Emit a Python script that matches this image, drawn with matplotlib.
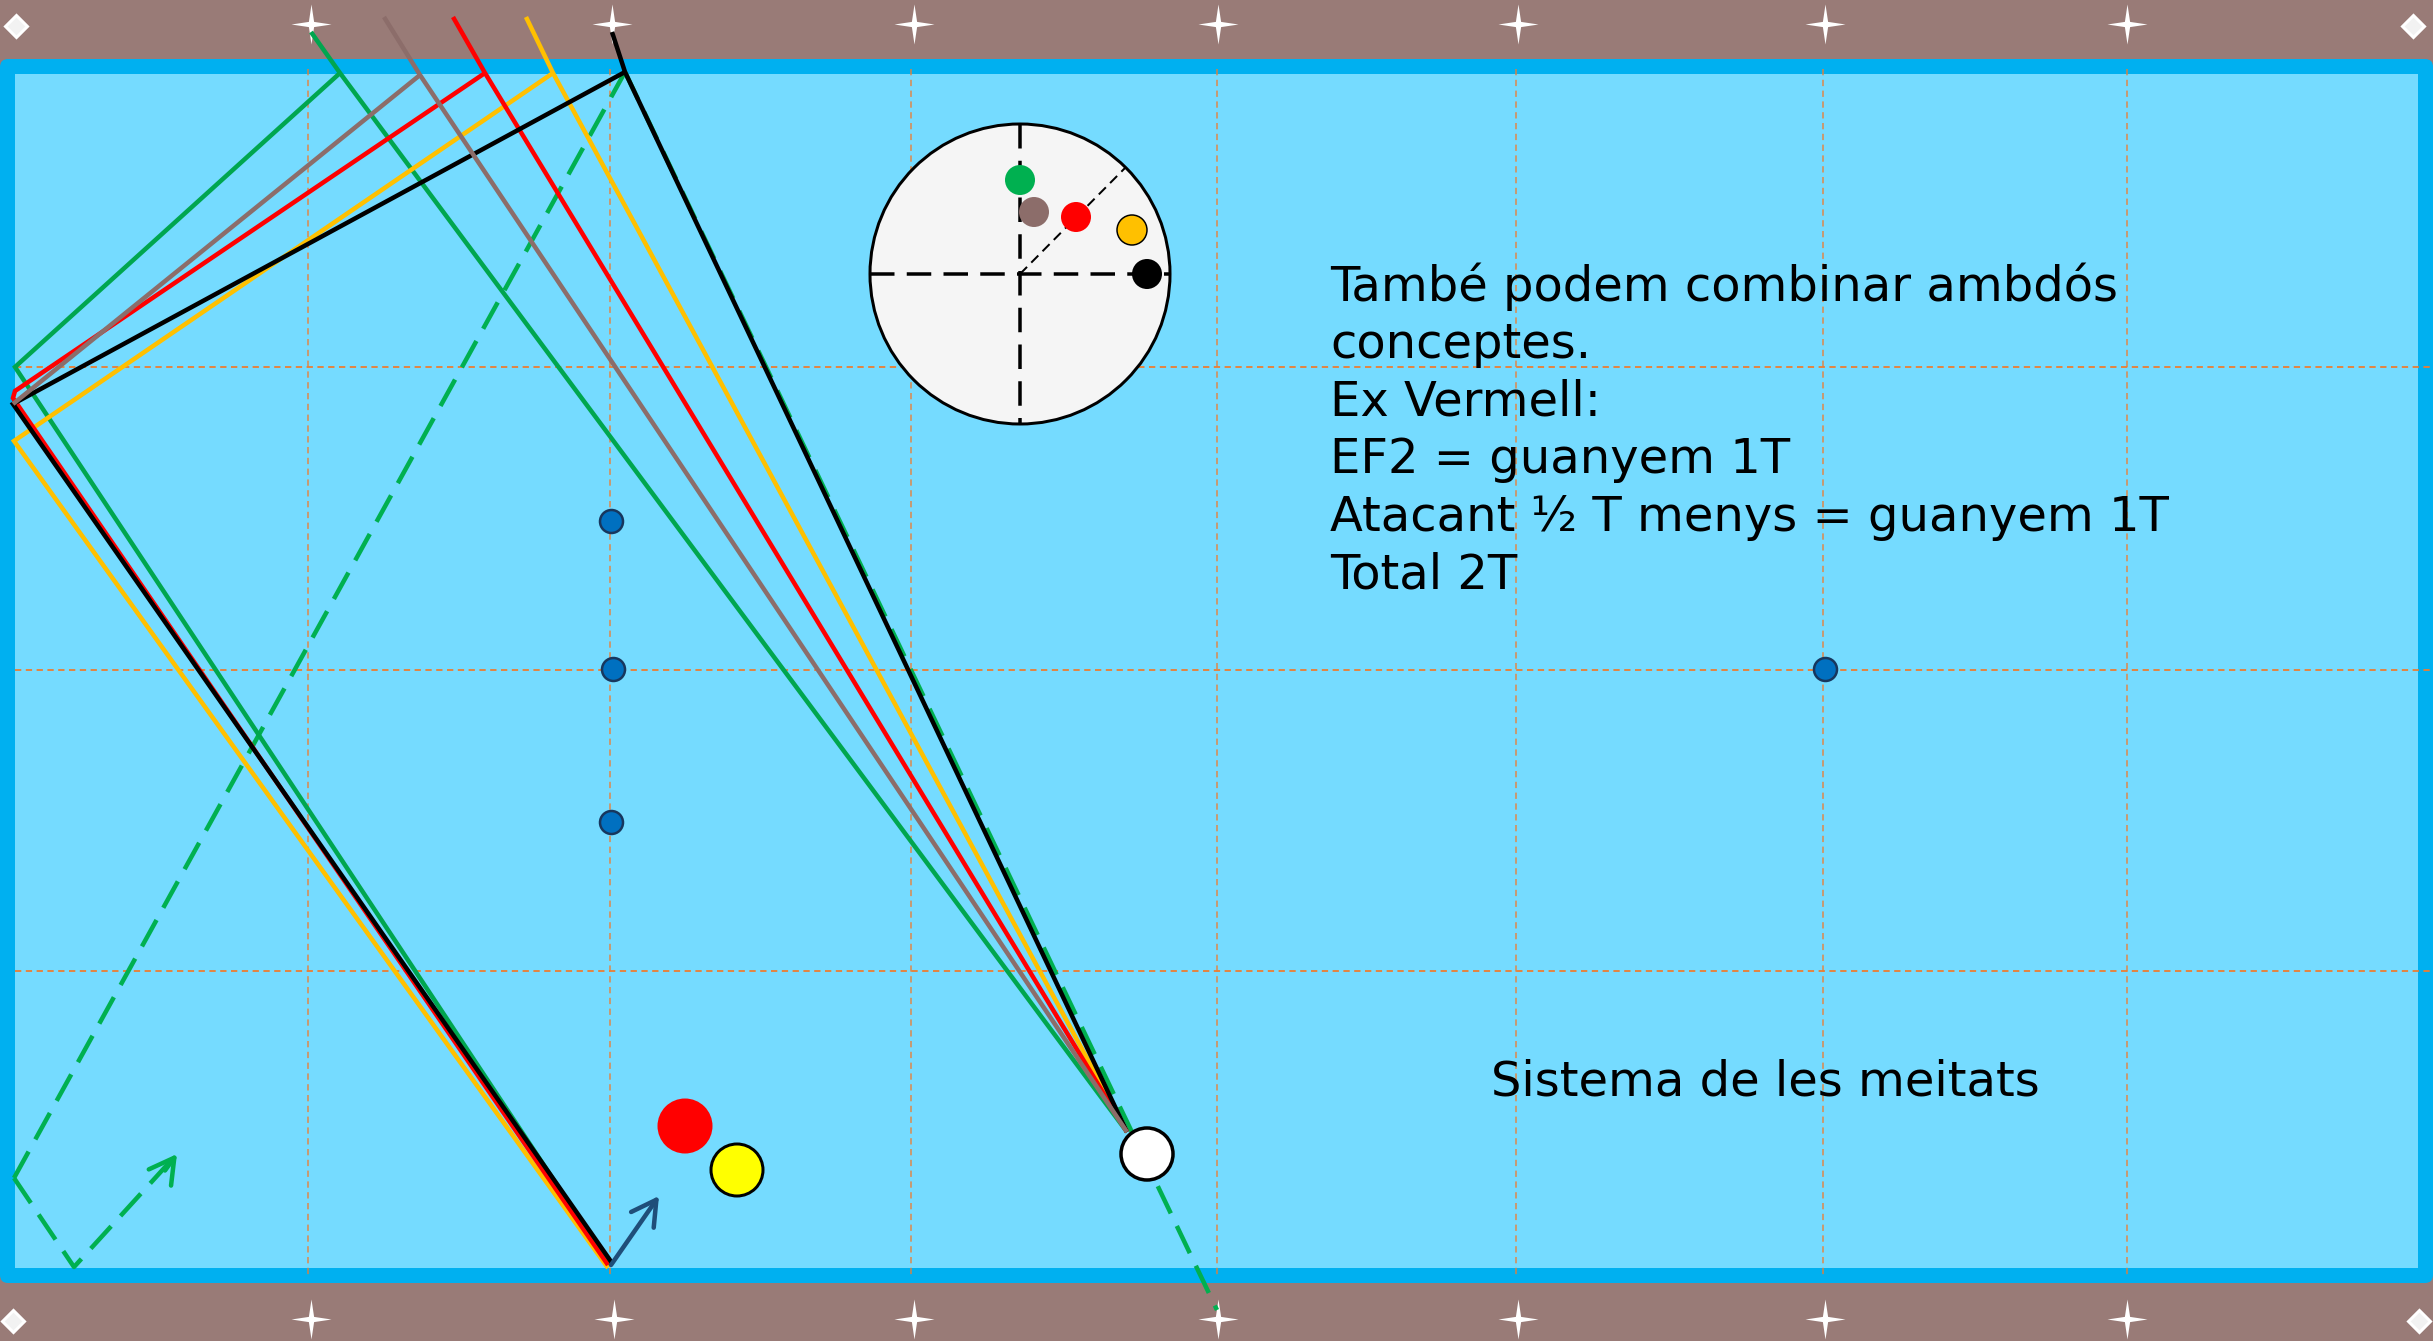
import matplotlib
matplotlib.use("Agg")
import matplotlib.pyplot as plt
from matplotlib.patches import Circle, FancyBboxPatch, Rectangle
from matplotlib.path import Path

W, H = 2433, 1341
PX = 0.72  # 1 px em pt a dpi 100

# --- cores ---
brown = "#997B77"
frame_blue = "#00B0F0"
cloth = "#75DBFF"
grid_orange = "#ED7D31"
c_green = "#00A64F"
c_dash = "#00B050"
c_gray = "#8C6D6A"
c_red = "#FF0000"
c_yellow = "#FFC000"
c_black = "#000000"

# --- dados ---
star_x_top = [311, 612, 914, 1218, 1518, 1825, 2127]
star_x_bottom = [311, 614, 914, 1218, 1518, 1825, 2127]
corner_x = [16, 2413, 13, 2419]
corner_y = [26, 26, 1321, 1321]
grid_x = [308, 610, 911, 1217, 1516, 1823, 2127]
grid_y = [367, 670, 971]
dots_x = [611, 613, 611, 1825]
dots_y = [521, 669, 822, 669]

# tacada: bola -> banda de cima (prolongada) e depois banda -> banda -> baixo
cue_start = (1127, 1132)
green_top = (311, 32)
gray_top = (384, 17)
red_top = (453, 17)
yellow_top = (526, 17)
black_top = (612, 32)

green_x = [340, 15, 610]
green_y = [73, 367, 1265]
gray_x = [420, 13]
gray_y = [75, 404]
yellow_x = [553, 14, 608]
yellow_y = [73, 441, 1268]
red_x = [485, 15, 13, 608]
red_y = [73, 391, 398, 1265]
black_x = [625, 13, 612]
black_y = [72, 404, 1263]

# tracejado: troços separados para o traço recomeçar em cada banda
dash_in_x = [1217, 625]
dash_in_y = [1310, 72]
dash_mid_x = [14, 625]
dash_mid_y = [1178, 72]
dash_out_x = [14, 74, 177]
dash_out_y = [1178, 1267, 1154]
blue_arrow = [(611, 1265), (659, 1196)]

spin_center = (1020, 274)
spin_x = [1020, 1034, 1076, 1132, 1147]
spin_y = [180, 212, 217, 230, 274]
spin_colors = [c_dash, c_gray, c_red, c_yellow, c_black]

text_lines = [
    "També podem combinar ambdós",
    "conceptes.",
    "Ex Vermell:",
    "EF2 = guanyem 1T",
    "Atacant ½ T menys = guanyem 1T",
    "Total 2T",
]
caption = "Sistema de les meitats"

fig = plt.figure(figsize=(W / 100, H / 100), dpi=100, facecolor=brown)
ax = fig.add_axes([0, 0, 1, 1])
ax.set_xlim(0, W)
ax.set_ylim(H, 0)
ax.axis("off")

# --- mesa ---
ax.add_patch(FancyBboxPatch((0, 59), W, 1224, boxstyle="round,pad=0,rounding_size=8",
                            fc=frame_blue, ec="none", zorder=1))
ax.add_patch(Rectangle((15, 74), 2403, 1194, fc=cloth, ec="none", zorder=1.1))

# --- grelha ---
for x in grid_x:
    ax.plot([x, x], [69, 1278], color=grid_orange, lw=1.8 * PX, ls=(0, (3.5, 2.5)), alpha=0.75, zorder=2)
for y in grid_y:
    ax.plot([15, W], [y, y], color=grid_orange, lw=1.8 * PX, ls=(0, (3.5, 2.5)), alpha=1, zorder=2)

# --- diamantes ---
r_in = 0.13
star = Path([(0, 1), (r_in, r_in), (1, 0), (r_in, -r_in), (0, -1), (-r_in, -r_in),
             (-1, 0), (-r_in, r_in), (0, 1)], closed=True)
ax.plot(star_x_top, [24] * len(star_x_top), ls="none", marker=star, ms=40 * PX, mfc="white", mew=0, zorder=2.5)
ax.plot(star_x_bottom, [1319] * len(star_x_bottom), ls="none", marker=star, ms=40 * PX, mfc="white", mew=0, zorder=2.5)
ax.plot(corner_x, corner_y, ls="none", marker="D", ms=15 * PX, mfc="#F2F2F2", mec="white", mew=3 * PX, zorder=2.5)


# --- trajetos ---
def rail_path(top, xs, ys, color, z):
    ax.plot([cue_start[0], xs[0], top[0]], [cue_start[1], ys[0], top[1]], color=color, lw=4.5 * PX,
            solid_capstyle="butt", zorder=z)
    ax.plot(xs, ys, color=color, lw=4.5 * PX, solid_joinstyle="miter", solid_capstyle="butt", zorder=z)


dash_pat = (0, (6.7, 3.1))
ax.plot(dash_in_x, dash_in_y, color=c_dash, lw=4.5 * PX, ls=(5.6, (6.7, 3.1)), dash_capstyle="butt", zorder=3)
ax.plot(dash_mid_x, dash_mid_y, color=c_dash, lw=4.5 * PX, ls=dash_pat, dash_capstyle="butt", zorder=3)
ax.plot(dash_out_x, dash_out_y, color=c_dash, lw=4.5 * PX, ls=dash_pat, dash_capstyle="butt", zorder=3)
ax.annotate("", xy=(dash_out_x[-1], dash_out_y[-1]), xytext=(dash_out_x[-1] - 12, dash_out_y[-1] + 16.5),
            arrowprops=dict(arrowstyle="->,head_length=0.8,head_width=0.45", color=c_dash,
                            lw=4.5 * PX, mutation_scale=22, shrinkA=0, shrinkB=0), zorder=3)

rail_path(green_top, green_x, green_y, c_green, 3.1)
rail_path(yellow_top, yellow_x, yellow_y, c_yellow, 3.2)
rail_path(red_top, red_x, red_y, c_red, 3.3)
rail_path(black_top, black_x, black_y, c_black, 3.4)
rail_path(gray_top, gray_x, gray_y, c_gray, 3.5)

ax.annotate("", xy=blue_arrow[1], xytext=blue_arrow[0],
            arrowprops=dict(arrowstyle="->,head_length=0.8,head_width=0.45", color="#1F4E79",
                            lw=4.5 * PX, mutation_scale=22, shrinkA=0, shrinkB=0), zorder=3.6)

# --- pontos azuis ---
ax.plot(dots_x, dots_y, ls="none", marker="o", ms=23 * PX, mfc="#0070C0", mec="#17375E", mew=2.5 * PX, zorder=4)

# --- bolas ---
ax.add_patch(Circle((685, 1126), 27.5, fc=c_red, ec="none", zorder=5))
ax.add_patch(Circle((737, 1170), 26, fc="#FFFF00", ec="black", lw=3 * PX, zorder=5))
ax.add_patch(Circle((1147, 1154), 26, fc="white", ec="black", lw=3.5 * PX, zorder=5))

# --- efeito ---
cx, cy = spin_center
ax.add_patch(Circle(spin_center, 150, fc="#F5F5F5", ec="black", lw=3 * PX, zorder=6))
ax.plot([cx - 150, cx + 150], [cy, cy], color="black", lw=3.5 * PX, ls=(0, (7, 3.5)), zorder=6.1)
ax.plot([cx, cx], [cy - 150, cy + 150], color="black", lw=3.5 * PX, ls=(0, (7, 3.5)), zorder=6.1)
ax.plot([cx, 1125], [cy, 168], color="black", lw=2 * PX, ls=(0, (5, 3)), zorder=6.1)
for x, y, col in zip(spin_x, spin_y, spin_colors):
    edge = "black" if col == c_yellow else "none"
    ax.add_patch(Circle((x, y), 15, fc=col, ec=edge, lw=1.5 * PX, zorder=6.2))

# --- textos ---
font_px = 48
for i, line in enumerate(text_lines):
    ax.text(1330, 287 + i * 57.5, line, fontsize=font_px * PX, color="black", va="center", ha="left", zorder=7)
ax.text(1491, 1082, caption, fontsize=font_px * PX, color="black", va="center", ha="left", zorder=7)

fig.savefig("out.png", dpi=100, facecolor=brown)
plt.close(fig)
